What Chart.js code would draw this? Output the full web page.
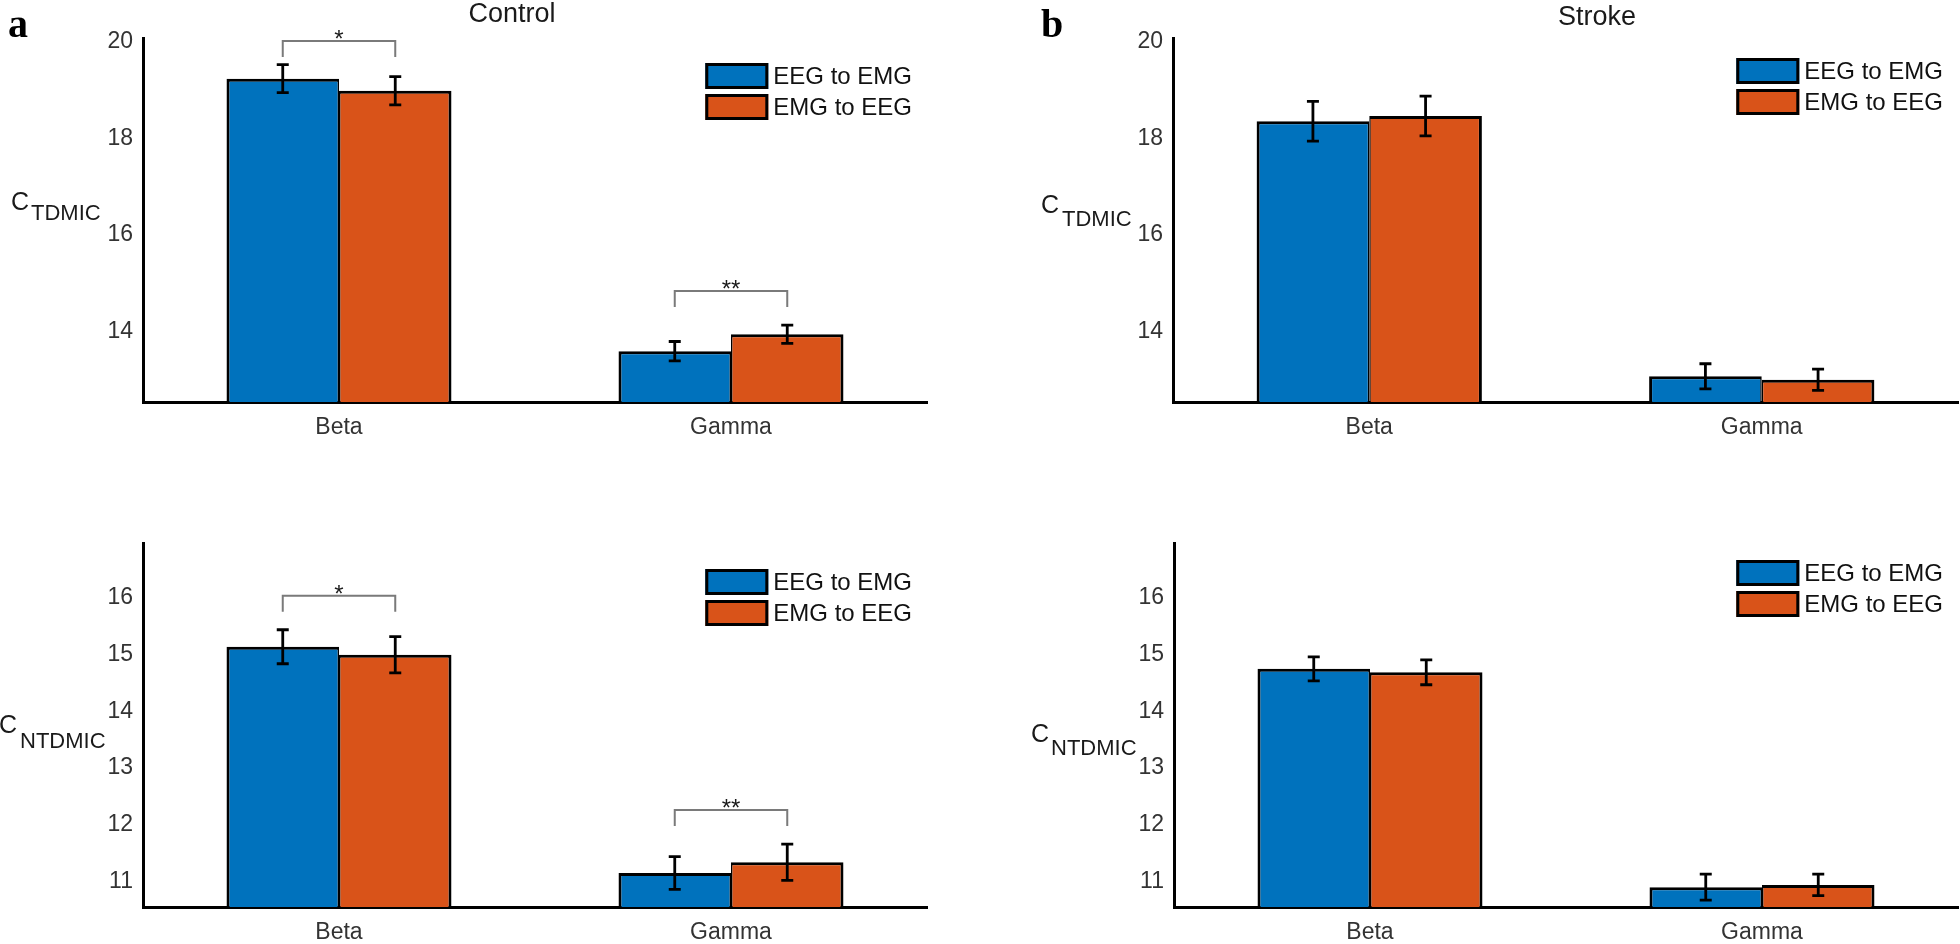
<!DOCTYPE html>
<html>
<head>
<meta charset="utf-8">
<script src="https://cdn.jsdelivr.net/npm/chart.js@4.4.1/dist/chart.umd.min.js"></script>
<style>
  body { margin: 0; background: #fff; width: 1960px; height: 944px; position: relative; overflow: hidden; }
  canvas { position: absolute; }
  svg { position: absolute; left: 0; top: 0; pointer-events: none; }
</style>
</head>
<body>
<canvas id="tl" width="980" height="472" style="left:0;top:0"></canvas>
<canvas id="tr" width="980" height="472" style="left:980px;top:0"></canvas>
<canvas id="bl" width="980" height="472" style="left:0;top:472px"></canvas>
<canvas id="br" width="980" height="472" style="left:980px;top:472px"></canvas>

<svg width="1960" height="944" font-family="Liberation Sans, Arial, sans-serif" fill="#1a1a1a">
  <text x="8" y="37" font-family="Liberation Serif, Times New Roman, serif" font-weight="bold" font-size="40" fill="#000">a</text>
  <text x="1041" y="37" font-family="Liberation Serif, Times New Roman, serif" font-weight="bold" font-size="40" fill="#000">b</text>
  <text x="512" y="22" font-size="27" text-anchor="middle">Control</text>
  <text x="1597" y="25" font-size="27" text-anchor="middle">Stroke</text>
  <text x="11" y="210" font-size="25">C<tspan x="31" y="220" font-size="22">TDMIC</tspan></text>
  <text x="1041" y="213" font-size="25">C<tspan x="1062" y="226" font-size="22">TDMIC</tspan></text>
  <text x="-1" y="733" font-size="25">C<tspan x="20" y="748" font-size="22">NTDMIC</tspan></text>
  <text x="1031" y="742" font-size="25">C<tspan x="1051" y="755" font-size="22">NTDMIC</tspan></text>
</svg>

<script>
// categories and series
const categories = ['Beta', 'Gamma'];
const seriesNames = ['EEG to EMG', 'EMG to EEG'];

// Control, C_TDMIC
const ctrlTdmicEegToEmg = [19.23, 13.60];
const ctrlTdmicEmgToEeg = [18.98, 13.95];
const ctrlTdmicEegToEmgErr = [0.29, 0.20];
const ctrlTdmicEmgToEegErr = [0.29, 0.19];

// Stroke, C_TDMIC
const strkTdmicEegToEmg = [18.35, 13.08];
const strkTdmicEmgToEeg = [18.46, 13.01];
const strkTdmicEegToEmgErr = [0.41, 0.26];
const strkTdmicEmgToEegErr = [0.41, 0.22];

// Control, C_NTDMIC
const ctrlNtdmicEegToEmg = [15.14, 11.15];
const ctrlNtdmicEmgToEeg = [15.00, 11.34];
const ctrlNtdmicEegToEmgErr = [0.30, 0.29];
const ctrlNtdmicEmgToEegErr = [0.32, 0.32];

// Stroke, C_NTDMIC
const strkNtdmicEegToEmg = [14.75, 10.90];
const strkNtdmicEmgToEeg = [14.69, 10.94];
const strkNtdmicEegToEmgErr = [0.21, 0.23];
const strkNtdmicEmgToEegErr = [0.22, 0.19];

// tick labels
const tdmicTicks = [14, 16, 18, 20];
const ntdmicTicks = [11, 12, 13, 14, 15, 16];

// significance marks per category
const controlSig = ['*', '**'];
const strokeSig = ['', ''];

const BLUE = '#0072BD';
const ORANGE = '#D95319';
const FONT = '"Liberation Sans", Arial, sans-serif';

const extras = {
  id: 'extras',
  afterDatasetsDraw(chart, args, opts) {
    const ctx = chart.ctx;
    const y = chart.scales.y;
    const ca = chart.chartArea;
    const tops = [];
    // error bars
    chart.data.datasets.forEach((ds, i) => {
      chart.getDatasetMeta(i).data.forEach((bar, j) => {
        const v = ds.data[j], e = ds.errors[j];
        const yt = y.getPixelForValue(v + e);
        const yb = y.getPixelForValue(v - e);
        tops[j] = Math.min(tops[j] === undefined ? Infinity : tops[j], yt);
        ctx.save();
        ctx.strokeStyle = '#000';
        ctx.lineWidth = 2.8;
        ctx.beginPath();
        ctx.moveTo(bar.x, yt); ctx.lineTo(bar.x, yb);
        ctx.moveTo(bar.x - 6, yt); ctx.lineTo(bar.x + 6, yt);
        ctx.moveTo(bar.x - 6, yb); ctx.lineTo(bar.x + 6, yb);
        ctx.stroke();
        ctx.restore();
      });
    });
    // significance brackets
    (opts.sig || []).forEach((s, j) => {
      if (!s) return;
      const x1 = chart.getDatasetMeta(0).data[j].x;
      const x2 = chart.getDatasetMeta(1).data[j].x;
      const by = Math.max(tops[j] - 34, ca.top + 3);
      ctx.save();
      ctx.strokeStyle = '#7a7a7a';
      ctx.lineWidth = 2;
      ctx.beginPath();
      ctx.moveTo(x1, by + 16); ctx.lineTo(x1, by); ctx.lineTo(x2, by); ctx.lineTo(x2, by + 16);
      ctx.stroke();
      ctx.fillStyle = '#1a1a1a';
      ctx.font = '24px ' + FONT;
      ctx.textAlign = 'center';
      ctx.textBaseline = 'alphabetic';
      ctx.fillText(s, (x1 + x2) / 2, by + 6);
      ctx.restore();
    });
  },
  afterDraw(chart, args, opts) {
    const ctx = chart.ctx;
    const ca = chart.chartArea;
    const dss = chart.data.datasets;
    ctx.save();
    ctx.font = '24px ' + FONT;
    const maxW = Math.max(...dss.map(d => ctx.measureText(d.label).width));
    const x0 = ca.right - 15 - maxW - 5 - 63;
    dss.forEach((ds, i) => {
      const by = ca.top + opts.legendDy + i * 31;
      ctx.fillStyle = ds.backgroundColor;
      ctx.fillRect(x0, by, 63, 26);
      ctx.strokeStyle = '#000';
      ctx.lineWidth = 3;
      ctx.strokeRect(x0 + 1.5, by + 1.5, 60, 23);
      ctx.fillStyle = '#111';
      ctx.textAlign = 'left';
      ctx.textBaseline = 'middle';
      ctx.fillText(ds.label, x0 + 68, by + 14);
    });
    ctx.restore();
  }
};

function makePanel(id, p) {
  const bar = (label, data, errors, color, bw) => ({
    label: label, data: data, errors: errors,
    backgroundColor: color, borderColor: '#000', borderWidth: bw, borderSkipped: false,
    categoryPercentage: 0.574, barPercentage: 1
  });
  return new Chart(document.getElementById(id), {
    type: 'bar',
    data: {
      labels: categories,
      datasets: [
        bar(seriesNames[0], p.a, p.aErr, BLUE, { top: 3, bottom: 3, left: 3, right: 1.5 }),
        bar(seriesNames[1], p.b, p.bErr, ORANGE, { top: 3, bottom: 3, left: 1.5, right: 3 })
      ]
    },
    options: {
      responsive: false,
      animation: false,
      devicePixelRatio: 1,
      layout: { padding: p.pad },
      plugins: {
        legend: { display: false },
        tooltip: { enabled: false },
        extras: { sig: p.sig, legendDy: p.legendDy }
      },
      scales: {
        x: {
          grid: { display: false, drawTicks: false },
          border: { display: true, color: '#000', width: 3 },
          ticks: { font: { family: FONT, size: 23 }, color: '#333', padding: 12 },
          afterFit: s => { s.height = 37; }
        },
        y: {
          min: p.min, max: p.max,
          grid: { display: false, drawTicks: false },
          border: { display: true, color: '#000', width: 3 },
          ticks: { font: { family: FONT, size: 23 }, color: '#333', padding: 10, callback: v => String(v) },
          afterBuildTicks: s => { s.ticks = p.ticks.map(v => ({ value: v })); },
          afterFit: s => { s.width = 60; }
        }
      }
    },
    plugins: [extras]
  });
}

makePanel('tl', {
  a: ctrlTdmicEegToEmg, b: ctrlTdmicEmgToEeg, aErr: ctrlTdmicEegToEmgErr, bErr: ctrlTdmicEmgToEegErr,
  min: 12.55, max: 20.07, ticks: tdmicTicks, sig: controlSig, legendDy: 25,
  pad: { left: 83, top: 38, right: 53, bottom: 33 }
});
makePanel('tr', {
  a: strkTdmicEegToEmg, b: strkTdmicEmgToEeg, aErr: strkTdmicEegToEmgErr, bErr: strkTdmicEmgToEegErr,
  min: 12.55, max: 20.07, ticks: tdmicTicks, sig: strokeSig, legendDy: 20,
  pad: { left: 133, top: 38, right: 2, bottom: 33 }
});
makePanel('bl', {
  a: ctrlNtdmicEegToEmg, b: ctrlNtdmicEmgToEeg, aErr: ctrlNtdmicEegToEmgErr, bErr: ctrlNtdmicEmgToEegErr,
  min: 10.55, max: 16.97, ticks: ntdmicTicks, sig: controlSig, legendDy: 26,
  pad: { left: 83, top: 71, right: 53, bottom: 0 }
});
makePanel('br', {
  a: strkNtdmicEegToEmg, b: strkNtdmicEmgToEeg, aErr: strkNtdmicEegToEmgErr, bErr: strkNtdmicEmgToEegErr,
  min: 10.55, max: 16.97, ticks: ntdmicTicks, sig: strokeSig, legendDy: 17,
  pad: { left: 134, top: 71, right: 2, bottom: 0 }
});
</script>
</body>
</html>
